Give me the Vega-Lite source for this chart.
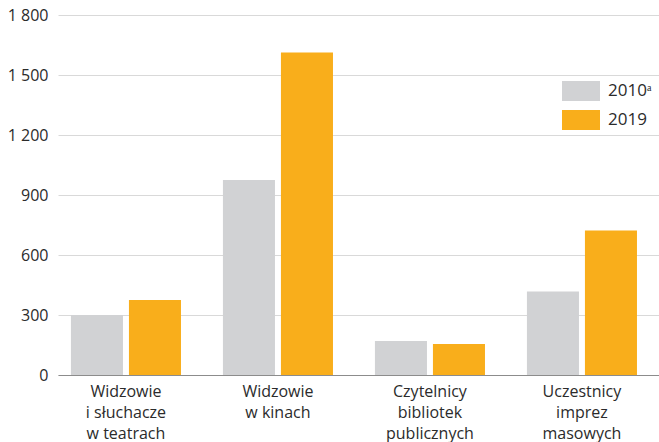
{
  "$schema": "https://vega.github.io/schema/vega-lite/v6.json",
  "autosize": "none",
  "width": 601,
  "height": 360,
  "padding": {"left": 58, "top": 15, "right": 0, "bottom": 67},
  "background": "white",
  "config": {
    "view": {"stroke": null},
    "font": "Open Sans",
    "axis": {"labelFont": "Open Sans", "labelColor": "#2b2b2b", "labelFontSize": 16},
    "legend": {"labelFont": "Open Sans"}
  },
  "data": {
    "values": [
      {"kategoria": "Widzowie|i słuchacze|w teatrach", "rok": "2010ᵃ", "wartosc": 300},
      {"kategoria": "Widzowie|i słuchacze|w teatrach", "rok": "2019", "wartosc": 375},
      {"kategoria": "Widzowie|w kinach", "rok": "2010ᵃ", "wartosc": 975},
      {"kategoria": "Widzowie|w kinach", "rok": "2019", "wartosc": 1612},
      {"kategoria": "Czytelnicy|bibliotek|publicznych", "rok": "2010ᵃ", "wartosc": 170},
      {"kategoria": "Czytelnicy|bibliotek|publicznych", "rok": "2019", "wartosc": 155},
      {"kategoria": "Uczestnicy|imprez|masowych", "rok": "2010ᵃ", "wartosc": 417},
      {"kategoria": "Uczestnicy|imprez|masowych", "rok": "2019", "wartosc": 722}
    ]
  },
  "mark": {"type": "bar"},
  "encoding": {
    "x": {
      "field": "kategoria",
      "type": "nominal",
      "sort": null,
      "scale": {"paddingInner": 0.276, "paddingOuter": 0.115, "align": 0.37},
      "axis": {
        "title": null,
        "labelAngle": 0,
        "ticks": false,
        "domain": true,
        "domainColor": "#8c8c8c",
        "domainWidth": 1,
        "labelPadding": 8,
        "labelFontSize": 16,
        "labelLineHeight": 21,
        "labelBaseline": "top",
        "labelExpr": "split(datum.label, '|')"
      }
    },
    "xOffset": {
      "field": "rok",
      "type": "nominal",
      "scale": {"paddingInner": 0.103, "paddingOuter": 0}
    },
    "y": {
      "field": "wartosc",
      "type": "quantitative",
      "scale": {"domain": [0, 1800], "nice": false},
      "axis": {
        "title": null,
        "values": [0, 300, 600, 900, 1200, 1500, 1800],
        "domain": false,
        "ticks": false,
        "labelPadding": 10,
        "gridColor": "#d9d9d9",
        "gridWidth": 1,
        "labelExpr": "replace(format(datum.value, ','), ',', ' ')"
      }
    },
    "color": {
      "field": "rok",
      "type": "nominal",
      "scale": {"domain": ["2010ᵃ", "2019"], "range": ["#d1d2d4", "#f9ae1b"]},
      "legend": {
        "title": null,
        "orient": "none",
        "legendX": 504,
        "legendY": 57,
        "symbolType": "M-1,-0.52H1V0.52H-1Z",
        "symbolSize": 1444,
        "symbolStrokeWidth": 0,
        "symbolOpacity": 1,
        "labelFontSize": 17,
        "labelOffset": 8,
        "labelColor": "#2b2b2b",
        "rowPadding": -12
      }
    }
  }
}
